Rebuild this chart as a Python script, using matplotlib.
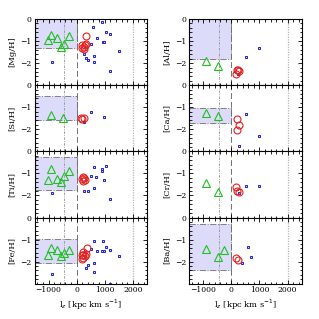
import matplotlib
matplotlib.use("Agg")
import matplotlib.pyplot as plt
from matplotlib.patches import Rectangle
from matplotlib.ticker import MultipleLocator

# panel order: left column top->bottom, then right column
elements = ['Mg', 'Si', 'Ti', 'Fe', 'Al', 'Ca', 'Cr', 'Ba']

# green triangles
tri_lz = {
    'Mg': [-923, -1009, -688, -271, -449, -556],
    'Si': [-923, -474],
    'Ti': [-923, -271, -449, -1009, -699, -556],
    'Fe': [-923, -688, -271, -449, -1009, -556],
    'Al': [-916, -468],
    'Ca': [-916, -468],
    'Cr': [-916, -468],
    'Ba': [-916, -254, -468],
}
tri_ab = {
    'Mg': [-0.72, -0.95, -0.88, -0.76, -1.13, -1.25],
    'Si': [-1.35, -1.47],
    'Ti': [-0.82, -0.87, -1.12, -1.28, -1.25, -1.40],
    'Fe': [-1.37, -1.46, -1.46, -1.60, -1.69, -1.76],
    'Al': [-1.90, -2.13],
    'Ca': [-1.24, -1.39],
    'Cr': [-1.43, -1.85],
    'Ba': [-1.42, -1.45, -1.81],
}

# red open circles
circ_lz = {
    'Mg': [335, 330, 200, 250, 300, 250, 180],
    'Si': [150, 200, 280],
    'Ti': [180, 230, 280, 300, 220],
    'Fe': [360, 239, 335, 182, 300, 239, 182, 230],
    'Al': [190, 240, 180, 280],
    'Ca': [187, 281, 187],
    'Cr': [162, 187, 281],
    'Ba': [162, 221],
}
circ_ab = {
    'Mg': [-0.76, -1.12, -1.20, -1.25, -1.17, -1.35, -1.30],
    'Si': [-1.50, -1.52, -1.50],
    'Ti': [-1.25, -1.15, -1.22, -1.30, -1.35],
    'Fe': [-1.38, -1.57, -1.64, -1.69, -1.75, -1.82, -1.87, -1.72],
    'Al': [-2.32, -2.30, -2.48, -2.38],
    'Ca': [-1.54, -1.80, -2.03],
    'Cr': [-1.62, -1.78, -1.85],
    'Ba': [-1.84, -1.91],
}

# blue squares
sq_lz = {
    'Mg': [917, 597, 1037, 1203, 716, 930, 988, 525, 1511, 275, 620, 335, 417, 631, -866, 1203],
    'Si': [525, 988, 275],
    'Ti': [609, 1037, 917, 917, 525, 703, 988, 275, 417, 631, -866, 1203],
    'Fe': [609, 930, 1037, 917, 988, 1203, 716, 525, 1511, 620, 417, 335, 631, -866, 1203],
    'Al': [991, 528, 245],
    'Ca': [528, 991, 258],
    'Cr': [518, 991, 281],
    'Ba': [589, 708, 386],
}
sq_ab = {
    'Mg': [-0.12, -0.38, -0.57, -0.66, -0.88, -1.06, -1.03, -1.14, -1.43, -1.60, -1.66, -1.78, -1.86, -1.96, -1.96, -2.36],
    'Si': [-1.20, -1.44, -1.65],
    'Ti': [-0.69, -0.67, -0.82, -0.91, -1.12, -1.17, -1.28, -1.82, -1.80, -1.65, -1.89, -2.16],
    'Fe': [-1.07, -1.07, -1.34, -1.54, -1.54, -1.45, -1.54, -1.43, -1.76, -2.06, -2.14, -2.29, -2.47, -2.56, -3.00],
    'Al': [-1.31, -1.71, -2.50],
    'Ca': [-1.32, -2.30, -2.78],
    'Cr': [-1.59, -1.58, -1.89],
    'Ba': [-1.32, -1.78, -2.07],
}

# shaded band (top, bottom) for the halo group
box_hi = {'Mg': 0.0, 'Si': -0.49, 'Ti': -0.26, 'Fe': -0.97, 'Al': 0.0, 'Ca': -1.04, 'Cr': None, 'Ba': -0.31}
box_lo = {'Mg': -1.33, 'Si': -1.59, 'Ti': -1.77, 'Fe': -2.06, 'Al': -1.81, 'Ca': -1.72, 'Cr': None, 'Ba': -2.37}

XMIN, XMAX = -1500, 2500
plt.rcParams['font.family'] = 'DejaVu Serif'

fig = plt.figure(figsize=(3.19, 3.19), dpi=100)
W, H = 319.0, 319.0
col_left = [34.5, 189.3]
col_w = 112.3
top, bot = 19.0, 283.7
ph = (bot - top) / 4

for i, el in enumerate(elements):
    col, row = divmod(i, 4)
    ax = fig.add_axes([col_left[col] / W, 1 - (top + (row + 1) * ph) / H, col_w / W, ph / H])

    if box_hi[el] is not None:
        ax.add_patch(Rectangle((XMIN, box_lo[el]), 0 - XMIN, box_hi[el] - box_lo[el],
                               facecolor='#dcdcfa', edgecolor='#808080', lw=0.7,
                               linestyle='-.', zorder=0))
    ax.axvline(0, color='#707070', lw=0.7, ls=(0, (6, 3)), zorder=1)
    ax.axvline(-450, color='#909090', lw=0.6, ls=(0, (3, 1.5, 1, 1.5)), zorder=1)
    ax.axvline(2000, color='#b8b8b8', lw=0.9, ls=(0, (1, 1)), zorder=1)

    ax.plot(sq_lz[el], sq_ab[el], ls='none', marker='s', ms=1.9, mfc='#d0d0ff',
            mec='#2020d0', mew=0.7, zorder=2)
    ax.plot(circ_lz[el], circ_ab[el], ls='none', marker='o', ms=5.0, mfc='none',
            mec='#e02020', mew=0.8, zorder=3)
    ax.plot(tri_lz[el], tri_ab[el], ls='none', marker='^', ms=6.0, mfc='none',
            mec='#20c020', mew=0.8, zorder=4)

    ax.set_xlim(XMIN, XMAX)
    ax.set_ylim(-3, 0)
    ax.set_yticks([0, -1, -2])
    ax.xaxis.set_major_locator(MultipleLocator(1000))
    ax.xaxis.set_minor_locator(MultipleLocator(200))
    ax.yaxis.set_minor_locator(MultipleLocator(0.2))
    ax.tick_params(which='both', direction='in', top=True, right=True, labelsize=5.5,
                   width=0.6, pad=2)
    ax.tick_params(which='major', length=3.2)
    ax.tick_params(which='minor', length=1.8)
    for s in ax.spines.values():
        s.set_linewidth(0.8)
    ax.set_ylabel('[' + el + '/H]', fontsize=6, labelpad=3)
    if row == 3:
        ax.set_xlabel(r'l$_z$ [kpc km s$^{-1}$]', fontsize=6, labelpad=2)
    else:
        ax.tick_params(labelbottom=False)

fig.savefig('out.png', dpi=100)
